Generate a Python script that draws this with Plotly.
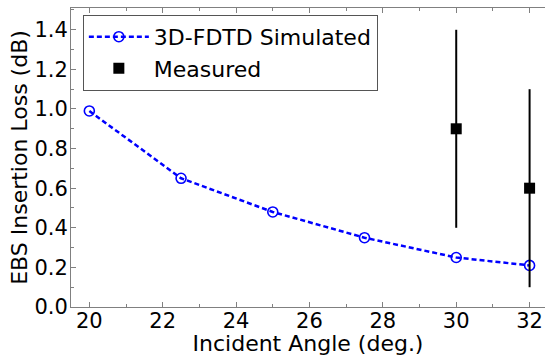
import plotly.graph_objects as go

sim_angle = [20, 22.5, 25, 27.5, 30, 32]
sim_loss = [0.99, 0.65, 0.48, 0.35, 0.25, 0.21]
meas_angle = [30, 32]
meas_loss = [0.90, 0.60]
meas_err = [0.50, 0.50]

FONT = "DejaVu Sans"

fig = go.Figure()
fig.add_trace(go.Scatter(
    x=sim_angle, y=sim_loss, mode="lines+markers", name="3D-FDTD Simulated",
    legendgroup="a",
    line=dict(color="#0000ff", width=2.5, dash="5px,3px"),
    marker=dict(symbol="circle-open", size=10, color="#0000ff", line=dict(width=1.6, color="#0000ff")),
))
fig.add_trace(go.Scatter(
    x=meas_angle, y=meas_loss, mode="markers", name="Measured",
    legendgroup="b",
    marker=dict(symbol="square", size=11, color="black"),
    error_y=dict(type="data", array=meas_err, visible=True, color="black", thickness=2, width=0),
))

axis_common = dict(
    showgrid=False, zeroline=False, showline=True, linecolor="#808080", linewidth=1,
    ticks="inside", tickcolor="#808080", ticklen=5, tickwidth=1, automargin=False,
    tickfont=dict(family=FONT, size=21, color="black"),
)
fig.update_xaxes(
    range=[19.5, 32.42], tickvals=[20, 22, 24, 26, 28, 30, 32], mirror="ticks",
    minor=dict(dtick=1, ticks="inside", ticklen=3, tickcolor="#808080", tick0=0),
    ticklabelstandoff=-5,
    title=dict(text="Incident Angle (deg.)", font=dict(family=FONT, size=22, color="black"), standoff=0),
    **axis_common,
)
fig.update_yaxes(
    range=[0, 1.51], tickvals=[0, 0.2, 0.4, 0.6, 0.8, 1.0, 1.2, 1.4], tickformat=".1f", mirror=False,
    minor=dict(dtick=0.1, ticks="inside", ticklen=3, tickcolor="#808080", tick0=0),
    ticklabelstandoff=-2,
    title=dict(text="EBS Insertion Loss (dB)", font=dict(family=FONT, size=22, color="black"), standoff=0),
    **axis_common,
)
fig.update_layout(
    width=545, height=356,
    margin=dict(l=71, r=0, t=8, b=49),
    plot_bgcolor="white", paper_bgcolor="white",
    showlegend=True,
    legend=dict(
        x=0.025, y=0.977, xanchor="left", yanchor="top",
        bordercolor="#555555", borderwidth=1, bgcolor="white",
        font=dict(family=FONT, size=22, color="black"),
        itemwidth=60, traceorder="grouped", tracegroupgap=0,
    ),
)
fig.write_html("out.html", config={"displayModeBar": False},
               post_script="document.body.style.margin='0';document.body.style.overflow='hidden';")
